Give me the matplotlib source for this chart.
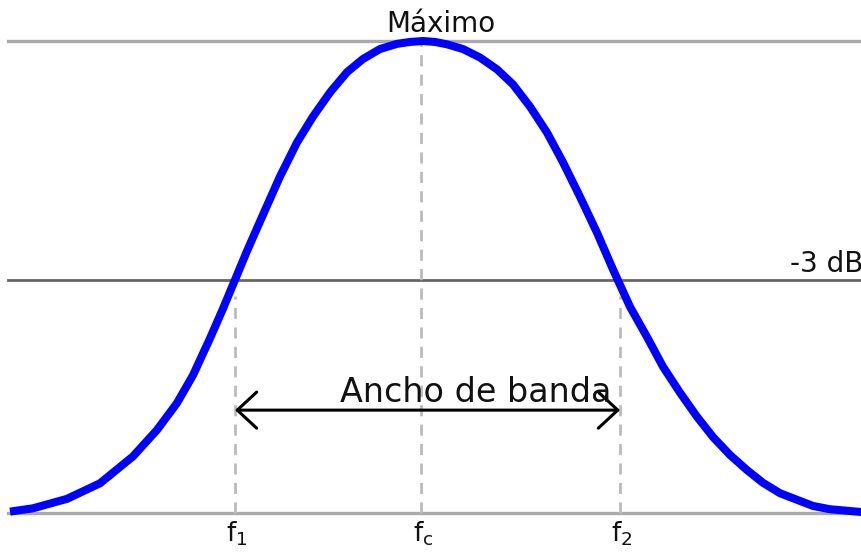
#!/usr/bin/env python3
"""Respuesta de un filtro pasa banda: ancho de banda a -3 dB."""
import matplotlib
matplotlib.use("Agg")
import matplotlib.pyplot as plt

# curva (frecuencia en unidades arbitrarias, amplitud normalizada)
freq = [10, 33, 67, 100, 133, 157, 177, 193, 210, 223, 235, 247, 263, 280,
        297, 313, 330, 347, 363, 380, 397, 410, 423, 435, 447, 463, 480, 497,
        513, 530, 547, 563, 580, 597, 613, 630, 647, 663, 680, 697, 713, 730,
        747, 763, 780, 797, 813, 830, 862]
amp = [0.003, 0.010, 0.030, 0.063, 0.120, 0.176, 0.233, 0.292, 0.370, 0.433,
       0.494, 0.555, 0.632, 0.713, 0.785, 0.840, 0.891, 0.934, 0.962, 0.983,
       0.994, 0.998, 1.0, 0.998, 0.993, 0.983, 0.965, 0.940, 0.908, 0.861,
       0.806, 0.743, 0.670, 0.594, 0.516, 0.437, 0.373, 0.310, 0.255, 0.204,
       0.161, 0.123, 0.091, 0.064, 0.042, 0.028, 0.015, 0.008, 0.002]

f_marks = [235, 421, 620]
f_labels = [r"$\mathregular{f_1}$", r"$\mathregular{f_c}$", r"$\mathregular{f_2}$"]
level_3db = 0.494
level_max = 1.0


def main():
    fig = plt.figure(figsize=(8.62, 5.53), dpi=100)
    ax = fig.add_axes([0, 0, 1, 1])
    ax.set_xlim(0, 862)
    ax.set_ylim(-0.0847, 1.0869)
    ax.axis("off")

    x0 = 8 / 862
    ax.axhline(level_max, xmin=x0, color="#aaaaaa", lw=2.4, zorder=1)
    ax.axhline(0, xmin=x0, color="#aaaaaa", lw=2.4, zorder=1)
    ax.axhline(level_3db, xmin=x0, color="#666666", lw=2.0, zorder=1)

    # lineas verticales punteadas
    for i, f in enumerate(f_marks):
        top = level_max if i == 1 else level_3db - 0.035
        ax.plot([f, f], [0, top], color="#bbbbbb", lw=2.0, ls=(0, (4, 3)), zorder=1)
        ax.text(f + 2, -0.061, f_labels[i], ha="center", va="baseline",
                fontsize=19, color="#111111")

    ax.plot(freq, amp, color="#0000ff", lw=5.8, solid_joinstyle="round",
            solid_capstyle="butt", zorder=3)

    ax.annotate("", xy=(f_marks[0], 0.218), xytext=(f_marks[2], 0.218),
                arrowprops=dict(arrowstyle="<->, head_length=0.7, head_width=0.65",
                                color="black", lw=2.2, mutation_scale=20,
                                shrinkA=0, shrinkB=0), zorder=4)
    ax.text(476, 0.235, "Ancho de banda", ha="center", va="baseline",
            fontsize=24, color="#111111", zorder=5)
    ax.text(441, 1.019, "Máximo", ha="center", va="baseline",
            fontsize=20, color="#111111")
    ax.text(863, 0.511, "-3 dB", ha="right", va="baseline",
            fontsize=20, color="#111111")

    fig.savefig("out.png", dpi=100)


if __name__ == "__main__":
    main()
